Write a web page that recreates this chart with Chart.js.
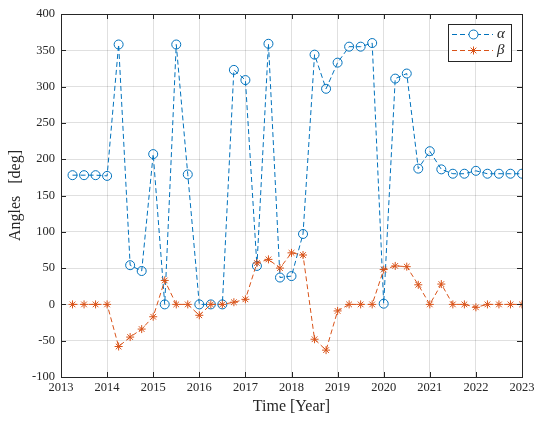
<!DOCTYPE html>
<html>
<head>
<meta charset="utf-8">
<script src="https://cdn.jsdelivr.net/npm/chart.js@4.4.0/dist/chart.umd.min.js"></script>
<style>
html, body { margin: 0; padding: 0; background: #fff; }
#wrap { width: 536px; height: 421px; }
</style>
</head>
<body>
<div id="wrap"><canvas id="mycanvas" width="536" height="421"></canvas></div>
<script>
// time of each sample (quarterly)
var years = [2013.25, 2013.5, 2013.75, 2014, 2014.25, 2014.5, 2014.75, 2015,
             2015.25, 2015.5, 2015.75, 2016, 2016.25, 2016.5, 2016.75, 2017,
             2017.25, 2017.5, 2017.75, 2018, 2018.25, 2018.5, 2018.75, 2019,
             2019.25, 2019.5, 2019.75, 2020, 2020.25, 2020.5, 2020.75, 2021,
             2021.25, 2021.5, 2021.75, 2022, 2022.25, 2022.5, 2022.75, 2023];

var alpha = [178, 178, 178, 177, 358, 54, 46, 207,
             0, 358, 179, 0, 0, 0, 323, 309,
             53, 359, 37, 39, 97, 344, 297, 333,
             355, 355, 360, 1, 311, 318, 187, 211,
             186, 180, 180, 184, 180, 180, 180, 180];

var beta = [0, 0, 0, 0, -58, -45, -34, -17,
            33, 0, 0, -15, 0, 0, 3, 7,
            57, 62, 50, 71, 68, -48, -63, -9,
            0, 0, 0, 48, 53, 52, 27, 0,
            28, 0, 0, -4, 0, 0, 0, 0];

var xTicks = [2013, 2014, 2015, 2016, 2017, 2018, 2019, 2020, 2021, 2022, 2023];
var yTicks = [-100, -50, 0, 50, 100, 150, 200, 250, 300, 350, 400];

var blue = "#0072BD";
var orange = "#D95319";
var axisCol = "#262626";
var font = "'Liberation Serif', 'DejaVu Serif', serif";

function pts(ys) {
    var out = [];
    for (var i in years) {
        out.push({x: years[i], y: ys[i]});
    }
    return out;
}

// box round the axes with inward ticks, plus the legend
var boxPlugin = {
    id: "box",
    afterDraw: function(chart) {
        var c = chart.ctx;
        var a = chart.chartArea;
        var xs = chart.scales.x, ys = chart.scales.y;
        var tl = 5;
        c.save();
        c.strokeStyle = axisCol;
        c.lineWidth = 1;
        c.beginPath();
        for (var i in xTicks) {
            var px = Math.round(xs.getPixelForValue(xTicks[i])) + 0.5;
            c.moveTo(px, a.bottom); c.lineTo(px, a.bottom - tl);
            c.moveTo(px, a.top); c.lineTo(px, a.top + tl);
        }
        for (var j in yTicks) {
            var py = Math.round(ys.getPixelForValue(yTicks[j])) + 0.5;
            c.moveTo(a.left, py); c.lineTo(a.left + tl, py);
            c.moveTo(a.right, py); c.lineTo(a.right - tl, py);
        }
        c.stroke();
        c.strokeRect(Math.round(a.left) + 0.5, Math.round(a.top) + 0.5,
                     Math.round(a.right - a.left), Math.round(a.bottom - a.top));

        // legend
        var lx = 448.5, ly = 24.5, lw = 63, lh = 37;
        c.fillStyle = "#fff";
        c.fillRect(lx, ly, lw, lh);
        c.strokeStyle = axisCol;
        c.strokeRect(lx, ly, lw, lh);
        var rows = [{col: blue, sym: "circle", txt: "\u03b1", y: 34.5},
                    {col: orange, sym: "star", txt: "\u03b2", y: 50.5}];
        for (var k in rows) {
            var r = rows[k];
            c.strokeStyle = r.col;
            c.setLineDash([5, 3]);
            c.beginPath();
            c.moveTo(452, r.y); c.lineTo(493, r.y);
            c.stroke();
            c.setLineDash([]);
            Chart.helpers.drawPoint(c, {pointStyle: r.sym, radius: r.sym == "circle" ? 4.5 : 4, borderWidth: 1}, 473.5, r.y);
            c.fillStyle = axisCol;
            c.font = "italic 15px " + font;
            c.textBaseline = "middle";
            c.fillText(r.txt, 497, r.y);
        }
        c.restore();
    }
};

var ctx = document.getElementById("mycanvas");

var chart = new Chart(ctx, {
    type: "scatter",
    data: {
        datasets: [
            {
                label: "\u03b1",
                data: pts(alpha),
                showLine: true,
                borderColor: blue,
                borderWidth: 1,
                borderDash: [5, 3],
                pointStyle: "circle",
                pointRadius: 4.5,
                pointBorderColor: blue,
                pointBackgroundColor: "rgba(0,0,0,0)",
                pointBorderWidth: 1,
                order: 2
            },
            {
                label: "\u03b2",
                data: pts(beta),
                showLine: true,
                borderColor: orange,
                borderWidth: 1,
                borderDash: [5, 3],
                pointStyle: "star",
                pointRadius: 4,
                pointBorderColor: orange,
                pointBackgroundColor: orange,
                pointBorderWidth: 1,
                order: 1
            }
        ]
    },
    options: {
        responsive: false,
        animation: false,
        devicePixelRatio: 1,
        layout: { padding: { top: 14, right: 14, left: 0, bottom: 0 } },
        plugins: {
            legend: { display: false },
            tooltip: { enabled: false }
        },
        scales: {
            x: {
                type: "linear",
                min: 2013,
                max: 2023,
                afterBuildTicks: function(s) { s.ticks = xTicks.map(function(v) { return {value: v}; }); },
                afterFit: function(s) { s.height = 44; s.paddingLeft = 0; s.paddingRight = 0; },
                ticks: {
                    color: axisCol,
                    font: { family: font, size: 12.5 },
                    padding: 3,
                    maxRotation: 0,
                    callback: function(v) { return String(v); }
                },
                grid: { color: "rgba(0,0,0,0.12)", drawTicks: false },
                border: { display: false },
                title: {
                    display: true,
                    text: "Time [Year]",
                    color: axisCol,
                    font: { family: font, size: 16 },
                    padding: { top: 1, bottom: 5 }
                }
            },
            y: {
                min: -100,
                max: 400,
                afterBuildTicks: function(s) { s.ticks = yTicks.map(function(v) { return {value: v}; }); },
                afterFit: function(s) { s.width = 61; s.paddingTop = 0; s.paddingBottom = 0; },
                ticks: {
                    color: axisCol,
                    font: { family: font, size: 12.5 },
                    padding: 6
                },
                grid: { color: "rgba(0,0,0,0.12)", drawTicks: false },
                border: { display: false },
                title: {
                    display: true,
                    text: "Angles   [deg]",
                    color: axisCol,
                    font: { family: font, size: 16 },
                    padding: { top: 6, bottom: 0 }
                }
            }
        }
    },
    plugins: [boxPlugin]
});
</script>
</body>
</html>
